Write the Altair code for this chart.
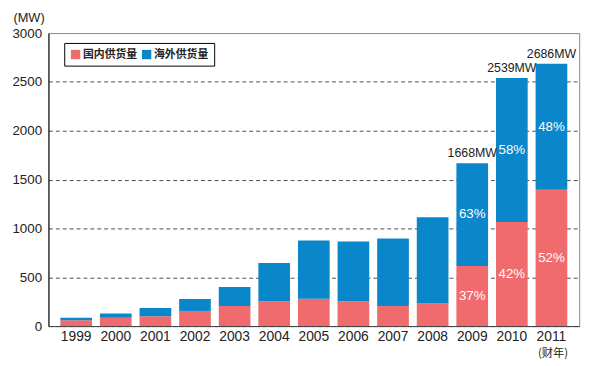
import altair as alt
import pandas as pd

years = ["1999", "2000", "2001", "2002", "2003", "2004", "2005",
         "2006", "2007", "2008", "2009", "2010", "2011"]
domestic = [60, 85, 100, 155, 205, 255, 280, 255, 205, 230, 616, 1066, 1397]
overseas = [25, 45, 85, 122, 195, 392, 595, 610, 692, 884, 1052, 1473, 1289]
totals = [85, 130, 185, 277, 400, 647, 875, 865, 897, 1114, 1668, 2539, 2686]
pct_domestic = ["", "", "", "", "", "", "", "", "", "", "37%", "42%", "52%"]
pct_overseas = ["", "", "", "", "", "", "", "", "", "", "63%", "58%", "48%"]
total_labels = ["", "", "", "", "", "", "", "", "", "", "1668MW", "2539MW", "2686MW"]
series = ["国内供货量", "海外供货量"]
colors = ["#EF6B6D", "#0A86CA"]

rows = []
for i, yr in enumerate(years):
    rows.append({"year": yr, "type": series[0], "value": domestic[i], "pct": pct_domestic[i], "ord": 0})
    rows.append({"year": yr, "type": series[1], "value": overseas[i], "pct": pct_overseas[i], "ord": 1})
df = pd.DataFrame(rows)
df_tot = pd.DataFrame({"year": years, "total": totals, "label": total_labels})

NUMFONT = "Liberation Sans"
CJK = "Noto Sans CJK SC"

xenc = alt.X(
    "year:N",
    sort=years,
    scale=alt.Scale(paddingInner=0.2, paddingOuter=0.3),
    axis=alt.Axis(
        title="(财年)", labelAngle=0, ticks=False, domainColor="#444",
        labelFont=NUMFONT, labelFontSize=14, labelColor="#222", labelPadding=4,
        titleFont=CJK, titleFontSize=11.5, titleFontWeight="normal", titleColor="#222",
        titleX=511, titleY=28, titleAlign="center", titleBaseline="middle",
    ),
)

yscale = alt.Scale(domain=[0, 3000], nice=False)

bars = alt.Chart(df).mark_bar().encode(
    x=xenc,
    y=alt.Y(
        "value:Q", stack="zero", scale=yscale,
        axis=alt.Axis(
            values=[0, 500, 1000, 1500, 2000, 2500, 3000], format="d",
            grid=True, gridDash=[4, 3], gridColor="#222", gridWidth=0.8,
            gridOpacity={"condition": {"test": "datum.value >= 3000", "value": 0}, "value": 1},
            domainColor="#000", ticks=False,
            labelFont=NUMFONT, labelFontSize=13.5, labelColor="#222", labelPadding=7,
            title="(MW)", titleAngle=0, titleX=-36, titleY=-16,
            titleAlign="left", titleBaseline="middle", titleFont=NUMFONT,
            titleFontSize=13, titleFontWeight="normal", titleColor="#222",
        ),
    ),
    color=alt.Color(
        "type:N",
        scale=alt.Scale(domain=series, range=colors),
        legend=alt.Legend(
            title=None, orient="none", legendX=16, legendY=10,
            direction="horizontal", strokeColor="#000", fillColor="white",
            padding=6, symbolType="square", symbolSize=90, symbolStrokeWidth=0,
            labelFont=CJK, labelFontSize=11, labelFontWeight="bold",
            labelColor="#222", columnPadding=4, labelOffset=2,
        ),
    ),
    order=alt.Order("ord:Q"),
)

pct_text = alt.Chart(df).transform_stack(
    stack="value", groupby=["year"], as_=["y0", "y1"], sort=[alt.SortField("ord")]
).transform_calculate(
    mid="(datum.y0 + datum.y1) / 2"
).transform_filter(
    "datum.pct != ''"
).mark_text(color="white", font=NUMFONT, fontSize=13.5, baseline="middle").encode(
    x=alt.X("year:N", sort=years),
    y=alt.Y("mid:Q", scale=yscale),
    text="pct:N",
)

tot_text = alt.Chart(df_tot).transform_filter(
    "datum.label != ''"
).mark_text(color="#222", font=NUMFONT, fontSize=12.5, baseline="bottom", dy=-3).encode(
    x=alt.X("year:N", sort=years),
    y=alt.Y("total:Q", scale=yscale),
    text="label:N",
)

chart = alt.layer(bars, pct_text, tot_text).properties(
    width=538, height=297,
    autosize=alt.AutoSizeParams(type="none"),
    padding={"left": 41, "top": 23, "right": 13, "bottom": 35},
).configure_view(stroke="#888", strokeWidth=1)

chart.save("out.html", embed_options={"renderer": "svg", "actions": False})
